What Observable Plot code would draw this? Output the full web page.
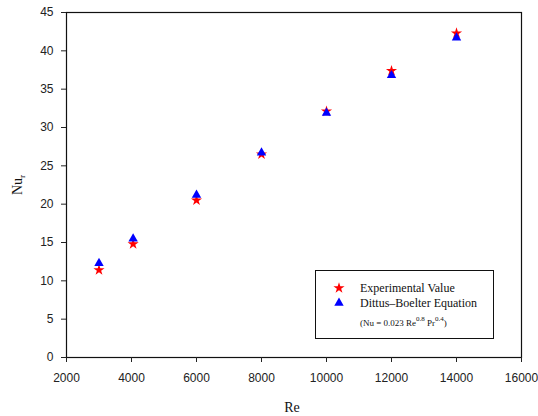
<!DOCTYPE html>
<html><head><meta charset="utf-8">
<script src="https://cdn.jsdelivr.net/npm/d3@7"></script>
<script src="https://cdn.jsdelivr.net/npm/@observablehq/plot@0.6"></script>
<style>body{margin:0;background:#fff}#c{position:relative;width:538px;height:416px}</style>
</head><body><div id="c"></div>
<script>
const re = [3000, 4050, 6000, 8000, 10000, 12000, 14000];
const experimental = [11.4, 14.8, 20.5, 26.5, 32.1, 37.4, 42.3];
const dittusBoelter = [12.3, 15.5, 21.2, 26.7, 31.9, 36.8, 41.7];
const xTicks = [2000, 4000, 6000, 8000, 10000, 12000, 14000, 16000];
const yTicks = [0, 5, 10, 15, 20, 25, 30, 35, 40, 45];

const expData = re.map((r, i) => ({re: r, nu: experimental[i]}));
const dbData = re.map((r, i) => ({re: r, nu: dittusBoelter[i]}));

const plot = Plot.plot({
  width: 538, height: 416,
  marginLeft: 66, marginRight: 17, marginTop: 12, marginBottom: 59,
  style: {fontFamily: "Liberation Sans, Arial, sans-serif", fontSize: "12px", color: "#222", background: "#fff"},
  x: {domain: [2000, 16000]},
  y: {domain: [0, 45]},
  marks: [
    Plot.frame({stroke: "#111", strokeWidth: 1.2}),
    Plot.axisX({ticks: xTicks, tickSize: 5, tickPadding: 11, label: null, tickFormat: d => String(d), fontSize: 12}),
    Plot.axisY({ticks: yTicks, tickSize: 5, tickPadding: 8, label: null, fontSize: 12}),
    Plot.dot(expData, {x: "re", y: "nu", symbol: "star", r: 3.5, fill: "#ff0000", stroke: "none"}),
    Plot.dot(dbData, {x: "re", y: "nu", symbol: "triangle", r: 3.5, fill: "#0000ff", stroke: "none"})
  ]
});
document.getElementById("c").appendChild(plot);

const svg = d3.select(plot);
const serif = "'Liberation Serif', 'Times New Roman', serif";
// axis labels
svg.append("text").attr("x", 292).attr("y", 412).attr("text-anchor", "middle")
  .style("font-family", serif).style("font-size", "14px").attr("fill", "#111").text("Re");
const yl = svg.append("text").attr("transform", "translate(22,185) rotate(-90)").attr("text-anchor", "middle")
  .style("font-family", serif).style("font-size", "14px").attr("fill", "#111");
yl.append("tspan").text("Nu");
yl.append("tspan").style("font-size", "9px").attr("dy", 3).text("r");

// legend
const lg = svg.append("g").attr("text-anchor", "start").style("font-family", serif);
lg.append("rect").attr("x", 315.5).attr("y", 270.5).attr("width", 178).attr("height", 68)
  .attr("fill", "#fff").attr("stroke", "#111").attr("stroke-width", 1);
lg.append("path").attr("d", d3.symbol(d3.symbolStar, Math.PI * 3.5 * 3.5)()).attr("transform", "translate(339,288)").attr("fill", "#ff0000");
lg.append("path").attr("d", d3.symbol(d3.symbolTriangle, Math.PI * 3.5 * 3.5)()).attr("transform", "translate(339,303)").attr("fill", "#0000ff");
lg.append("text").attr("x", 360).attr("y", 292).style("font-family", serif).style("font-size", "12px").attr("fill", "#111").text("Experimental Value");
lg.append("text").attr("x", 360).attr("y", 307).style("font-family", serif).style("font-size", "12px").attr("fill", "#111").text("Dittus\u2013Boelter Equation");
const f = lg.append("text").attr("x", 360).attr("y", 326).style("font-family", serif).style("font-size", "9px").attr("fill", "#111");
f.append("tspan").text("(Nu = 0.023 Re");
f.append("tspan").style("font-size", "7px").attr("dy", -5).text("0.8");
f.append("tspan").attr("dy", 5).text(" Pr");
f.append("tspan").style("font-size", "7px").attr("dy", -5).text("0.4");
f.append("tspan").attr("dy", 5).text(")");
</script></body></html>
